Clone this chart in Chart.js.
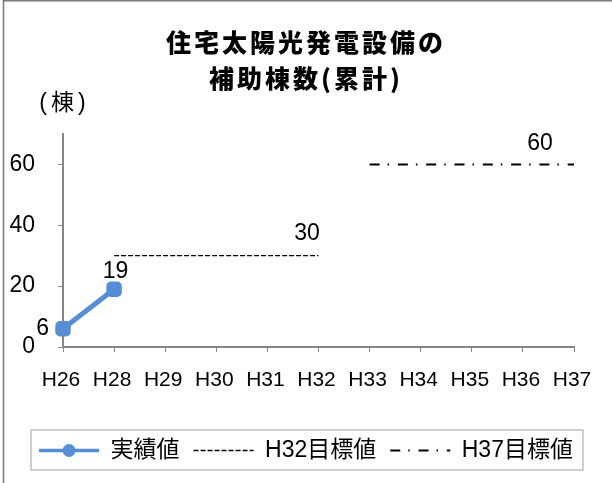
<!DOCTYPE html>
<html><head><meta charset="utf-8">
<style>html,body{margin:0;padding:0;background:#fff;}#wrap{width:612px;height:483px;}</style>
<script src="https://cdn.jsdelivr.net/npm/chart.js@4.4.1/dist/chart.umd.min.js"></script>
</head><body><div id="wrap"><canvas id="c" width="612" height="483"></canvas></div>
<script>
const categories = ['H26','H28','H29','H30','H31','H32','H33','H34','H35','H36','H37'];
const actualValues = [6, 19, null, null, null, null, null, null, null, null, null];
const targetH32 = [null, 30, 30, 30, 30, 30, null, null, null, null, null];
const targetH37 = [null, null, null, null, null, null, 60, 60, 60, 60, 60];
const seriesNames = ['実績値', 'H32目標値', 'H37目標値'];
const yTicks = [0, 20, 40, 60];
const titleLines = ['住宅太陽光発電設備の', '補助棟数(累計)'];
const unitLabel = '(棟)';

const BLUE = '#558ED5';
const AXIS = '#868686';
const LATIN = '"Liberation Sans", "Noto Sans CJK JP", sans-serif';
const legendLineWidths = [3.5, 1.3, 1.8];
const pointStyleW = 60;

Chart.defaults.color = '#000';
Chart.defaults.font.family = LATIN;

// value labels attached to specific points (dataset, index) with offsets from the point
const labelSpecs = [
  {ds: 0, i: 0, align: 'right', dx: -14, dy: 6},
  {ds: 0, i: 1, align: 'center', dx: 1.5, dy: -11},
  {ds: 1, i: 5, align: 'center', dx: -11.5, dy: -16},
  {ds: 2, i: 10, align: 'center', dx: -34, dy: -14.3}
];

const decoPlugin = {
  id: 'deco',
  beforeDraw(chart) {
    const tb = chart.titleBlock;
    if (tb && !tb._spaced) {
      const orig = tb.draw;
      tb.draw = function (...a) {
        const ctx = this.ctx; ctx.save(); ctx.letterSpacing = '3px'; orig.apply(this, a); ctx.restore();
      };
      tb._spaced = true;
    }
  },
  afterDatasetsDraw(chart) {
    const ctx = chart.ctx;
    ctx.save();
    ctx.font = '23px "Liberation Sans"';
    ctx.fillStyle = '#000';
    ctx.textBaseline = 'alphabetic';
    labelSpecs.forEach(s => {
      const el = chart.getDatasetMeta(s.ds).data[s.i];
      const v = chart.data.datasets[s.ds].data[s.i];
      ctx.textAlign = s.align;
      ctx.fillText(String(v), el.x + s.dx, el.y + s.dy);
    });
    ctx.restore();
  },
  afterDraw(chart) {
    const ctx = chart.ctx;
    const area = chart.chartArea;
    ctx.save();
    // outer frame (left + top)
    ctx.strokeStyle = '#7a7a7a'; ctx.lineWidth = 1.5;
    ctx.beginPath(); ctx.moveTo(3.5, 483); ctx.lineTo(3.5, 0.75); ctx.lineTo(612, 0.75); ctx.stroke();
    // unit label
    ctx.font = '23px "Liberation Sans", "Noto Sans CJK JP"';
    ctx.letterSpacing = '4px';
    ctx.fillStyle = '#000'; ctx.textAlign = 'center'; ctx.textBaseline = 'alphabetic';
    ctx.fillText(unitLabel, area.left + 1.5, area.top - 24);
    ctx.letterSpacing = '0px';
    // legend frame + marker
    const hbs = chart.legend.legendHitBoxes;
    if (hbs && hbs.length) {
      const first = hbs[0], last = hbs[hbs.length - 1];
      const cy = first.top + first.height / 2;
      ctx.strokeStyle = '#bfbfbf'; ctx.lineWidth = 1.5;
      const l = first.left - 8, r = last.left + last.width + 10;
      ctx.strokeRect(l, cy - 20.5, r - l, 40);
      ctx.fillStyle = BLUE;
      ctx.beginPath(); ctx.arc(first.left + pointStyleW / 2, cy, 6.5, 0, Math.PI * 2); ctx.fill();
    }
    ctx.restore();
  }
};

new Chart(document.getElementById('c'), {
  type: 'line',
  data: {
    labels: categories,
    datasets: [
      {label: seriesNames[0], data: actualValues, borderColor: BLUE, backgroundColor: BLUE,
       borderWidth: 5, pointRadius: 9, pointStyle: 'rectRounded', pointBackgroundColor: BLUE,
       pointBorderColor: BLUE, pointBorderWidth: 0, clip: false},
      {label: seriesNames[1], data: targetH32, borderColor: '#000', backgroundColor: '#000',
       borderWidth: 1.3, borderDash: [5, 2], pointRadius: 0, clip: false},
      {label: seriesNames[2], data: targetH37, borderColor: '#000', backgroundColor: '#000',
       borderWidth: 2, borderDash: [10, 8, 1.5, 8.8], pointRadius: 0, clip: false}
    ]
  },
  options: {
    responsive: false,
    animation: false,
    events: [],
    layout: {padding: {top: 2, bottom: 11, left: 0, right: 0}},
    plugins: {
      title: {
        display: true, text: titleLines, color: '#000',
        font: {family: '"Noto Sans CJK JP", "Liberation Sans", sans-serif', size: 25, weight: '900', lineHeight: 1.46},
        padding: {top: 22, bottom: 37}
      },
      legend: {
        position: 'bottom',
        labels: {
          usePointStyle: true, pointStyle: 'line', pointStyleWidth: pointStyleW,
          color: '#000', padding: 14,
          font: {family: LATIN, size: 23},
          generateLabels(chart) {
            const items = Chart.defaults.plugins.legend.labels.generateLabels(chart);
            items.forEach((it, i) => {
              const ds = chart.data.datasets[i];
              it.lineWidth = legendLineWidths[i];
              it.lineDash = ds.borderDash || [];
              it.strokeStyle = ds.borderColor;
              it.fillStyle = ds.borderColor;
              it.pointStyle = 'line';
            });
            return items;
          }
        }
      },
      tooltip: {enabled: false}
    },
    scales: {
      x: {
        offset: false,
        afterFit: s => { s.height = 78; },
        ticks: {autoSkip: false, maxRotation: 0, minRotation: 0, color: '#000',
                font: {family: LATIN, size: 21}, padding: 16, labelOffset: -2},
        grid: {drawOnChartArea: false, tickLength: 5, color: AXIS, offset: false},
        border: {color: AXIS, width: 2}
      },
      y: {
        min: 0, max: 70,
        afterBuildTicks: s => { s.ticks = yTicks.map(v => ({value: v})); },
        afterFit: s => { s.width = 63; },
        ticks: {color: '#000', font: {family: LATIN, size: 23}, padding: 23},
        grid: {drawOnChartArea: false, tickLength: 5, color: AXIS},
        border: {color: AXIS, width: 2}
      },
      yR: {
        position: 'right', display: true,
        afterFit: s => { s.width = 38; },
        ticks: {display: false}, grid: {display: false}, border: {display: false}
      }
    }
  },
  plugins: [decoPlugin]
});
</script>
</body></html>
